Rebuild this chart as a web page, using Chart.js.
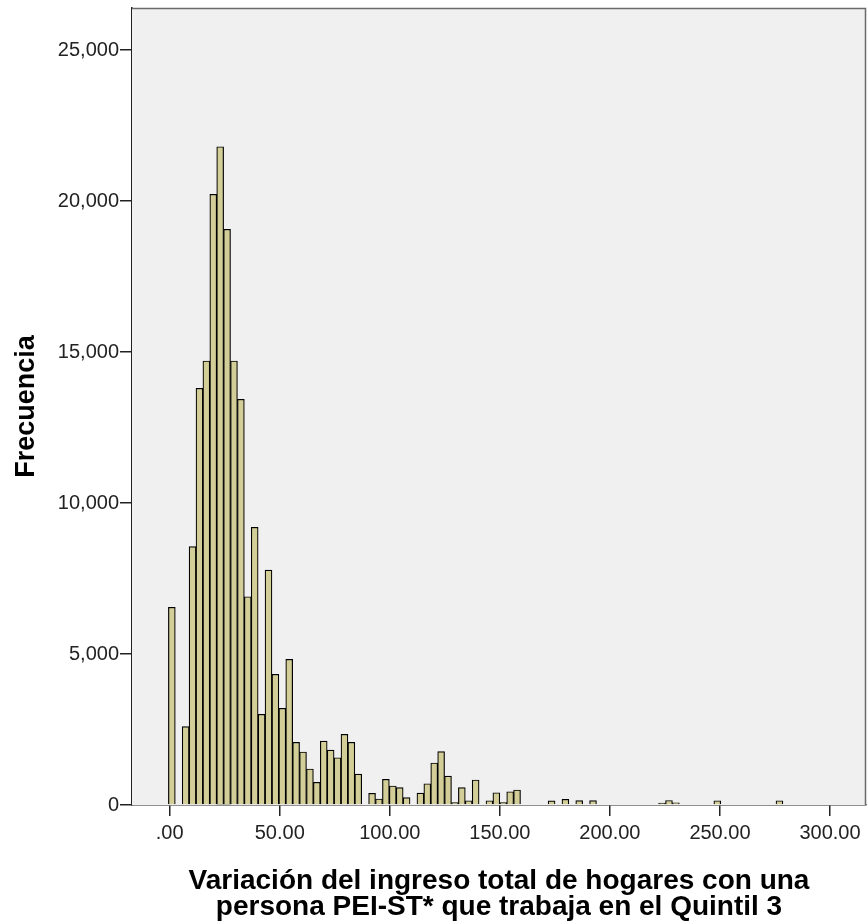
<!DOCTYPE html>
<html>
<head>
<meta charset="utf-8">
<title>Histograma Quintil 3</title>
<script src="https://cdn.jsdelivr.net/npm/chart.js@4.4.1/dist/chart.umd.min.js"></script>
<style>
    html, body { margin: 0; padding: 0; background: #ffffff; }
    #histograma { display: block; }
</style>
</head>
<body>
<canvas id="histograma" width="867" height="922"></canvas>
<script>
// histogram bins (variación %, width of each bin and where the first one starts)
const binStart = -0.6;
const binWidth = 3.137;
const binCounts = [
    6546, 0, 2593, 8553, 13798, 14702, 20222, 21798, 19063, 14702,
    13434, 6897, 9195, 3003, 7781, 4328, 3202, 4825, 2076, 1755,
    1192, 752, 2119, 1821, 1566, 2341, 2076, 1026, 0, 387,
    199, 851, 629, 573, 242, 0, 397, 705, 1391, 1765,
    960, 76, 573, 142, 828, 0, 142, 407, 76, 440,
    497, 0, 0, 0, 0, 140, 0, 190, 0, 145,
    0, 145, 0, 0, 0, 0, 0, 0, 0, 0,
    0, 60, 150, 70, 0, 0, 0, 0, 0, 142,
    0, 0, 0, 0, 0, 0, 0, 0, 142
];

const xTicks = [0, 50, 100, 150, 200, 250, 300];
const yTicks = [0, 5000, 10000, 15000, 20000, 25000];

const xTitle = ["Variación del ingreso total de hogares con una", "persona PEI-ST* que trabaja en el Quintil 3"];
const yTitle = "Frecuencia";

const fontFamily = "'Liberation Sans', Arial, sans-serif";

const histData = binCounts.map((count, i) => ({
    x: binStart + (i + 0.5) * binWidth,
    y: count
}));

// grey plot background plus the box around it
const plotFrame = {
    id: "plotFrame",
    beforeDatasetsDraw(chart) {
        const {ctx, chartArea: a} = chart;
        ctx.save();
        ctx.fillStyle = "#f0f0f0";
        ctx.fillRect(a.left, a.top, a.right - a.left, a.bottom - a.top);
        ctx.restore();
    },
    afterDraw(chart) {
        const {ctx, chartArea: a} = chart;
        ctx.save();
        ctx.strokeStyle = "#6a6a6a";
        ctx.lineWidth = 1.5;
        ctx.beginPath();
        ctx.moveTo(a.left, a.top + 0.5);
        ctx.lineTo(a.right - 0.5, a.top + 0.5);
        ctx.lineTo(a.right - 0.5, a.bottom);
        ctx.stroke();
        ctx.restore();
    }
};

const ctx = document.getElementById("histograma");

const chartOptions = {
    responsive: false,
    animation: false,
    layout: {
        padding: { top: 8, right: 1, bottom: 0, left: 0 }
    },
    plugins: {
        legend: { display: false },
        tooltip: { enabled: false }
    },
    scales: {
        x: {
            type: "linear",
            offset: false,
            min: -17.13,
            max: 316.35,
            afterFit(scale) {
                scale.height = 117;
                scale.paddingLeft = 0;
                scale.paddingRight = 0;
            },
            afterBuildTicks(scale) { scale.ticks = xTicks.map(v => ({ value: v })); },
            grid: {
                offset: false,
                drawOnChartArea: false,
                drawTicks: true,
                tickLength: 11,
                color: "#222222",
                lineWidth: 1.5
            },
            border: { color: "#222222", width: 1.5 },
            ticks: {
                autoSkip: false,
                maxRotation: 0,
                padding: 5,
                color: "#222222",
                font: { family: fontFamily, size: 20 },
                callback: v => (v === 0 ? ".00" : v.toFixed(2))
            },
            title: {
                display: true,
                text: xTitle,
                color: "#000000",
                padding: { top: 0, bottom: 1 },
                font: { family: fontFamily, size: 28, weight: "bold", lineHeight: 0.95 }
            }
        },
        y: {
            type: "linear",
            min: 0,
            max: 26391,
            afterFit(scale) {
                scale.width = 132;
                scale.paddingTop = 0;
                scale.paddingBottom = 0;
            },
            afterBuildTicks(scale) { scale.ticks = yTicks.map(v => ({ value: v })); },
            grid: {
                drawOnChartArea: false,
                drawTicks: true,
                tickLength: 12,
                color: "#222222",
                lineWidth: 1.5
            },
            border: { color: "#222222", width: 1.5 },
            ticks: {
                padding: 1,
                color: "#222222",
                font: { family: fontFamily, size: 20 },
                callback: v => v.toLocaleString("en-US")
            },
            title: {
                display: true,
                text: yTitle,
                color: "#000000",
                padding: { top: 10, bottom: 0 },
                font: { family: fontFamily, size: 27, weight: "bold", lineHeight: 1.2 }
            }
        }
    }
};

let chartData = {
    datasets: [
        {
            label: yTitle,
            data: histData,
            backgroundColor: "#d3ce97",
            borderColor: "#000000",
            borderWidth: 1.2,
            barPercentage: 1,
            categoryPercentage: 1
        }
    ]
};

let config = {
    type: "bar",
    data: chartData,
    options: chartOptions,
    plugins: [plotFrame]
};

new Chart(ctx, config);
</script>
</body>
</html>
